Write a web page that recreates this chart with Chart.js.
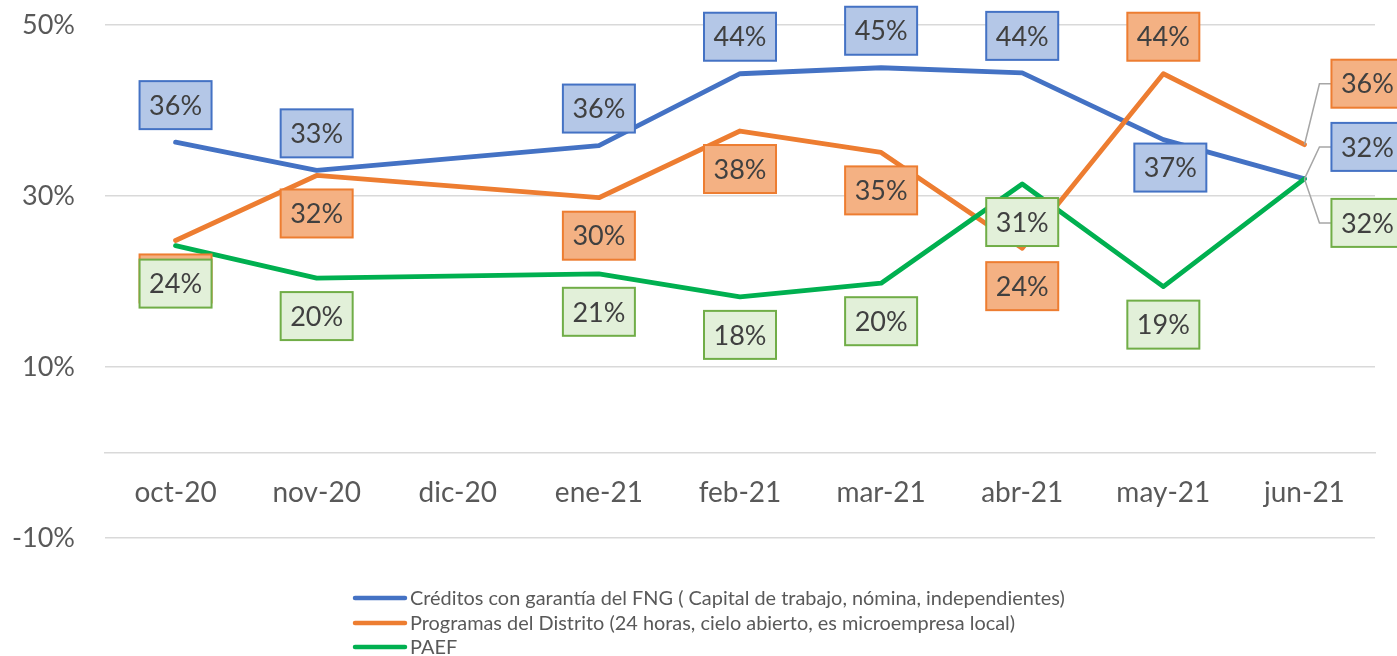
<!DOCTYPE html>
<html>
<head>
<meta charset="utf-8">
<script src="https://cdn.jsdelivr.net/npm/chart.js@4.4.1/dist/chart.umd.min.js"></script>
<style>
  html, body { margin: 0; padding: 0; background: #fff; overflow: hidden; }
  canvas { display: block; }
</style>
</head>
<body>
<canvas id="lineChart" width="1397" height="656"></canvas>
<script>
// data
const months = ['oct-20', 'nov-20', 'dic-20', 'ene-21', 'feb-21', 'mar-21', 'abr-21', 'may-21', 'jun-21'];
const fngValues = [0.363, 0.330, null, 0.359, 0.443, 0.450, 0.444, 0.366, 0.320];
const distritoValues = [0.248, 0.324, null, 0.298, 0.376, 0.351, 0.239, 0.443, 0.360];
const paefValues = [0.242, 0.204, null, 0.209, 0.182, 0.198, 0.314, 0.194, 0.320];
const seriesNames = [
  'Créditos con garantía del FNG ( Capital de trabajo, nómina, independientes)',
  'Programas del Distrito (24 horas, cielo abierto, es microempresa local)',
  'PAEF'
];
const yTicks = [-0.1, 0.1, 0.3, 0.5];

const FONT = 'Lato';
const lineColors = ['#4472C4', '#ED7D31', '#00B050'];
const boxFills = ['#B4C7E7', '#F4B183', '#E2F0D9'];
const boxBorders = ['#4472C4', '#ED7D31', '#70AD47'];

// where each value label sits relative to its point
const labelPlace = [
  ['above', 'above', null, 'above', 'above', 'above', 'above', 'near', 'right'],
  ['below', 'below', null, 'below', 'below', 'below', 'below', 'above', 'right'],
  ['below', 'below', null, 'below', 'below', 'below', 'below', 'below', 'right']
];
const rightDy = [-32, -61, 44];
const placeOffset = { above: [0, -37], below: [0, 38], near: [7, 28] };

const pct = (v) => Math.round(v * 100) + '%';

const valueLabels = {
  id: 'valueLabels',
  afterDatasetsDraw(chart) {
    const ctx = chart.ctx;
    const bw = 72, bh = 48;
    ctx.save();
    chart.data.datasets.forEach((ds, i) => {
      const meta = chart.getDatasetMeta(i);
      ds.data.forEach((v, j) => {
        if (v === null) return;
        const pt = meta.data[j];
        const place = labelPlace[i][j];
        let cx, cy;
        if (place === 'right') {
          cy = pt.y + rightDy[i];
          const left = pt.x + 27;
          cx = left + bw / 2;
          ctx.strokeStyle = '#A6A6A6';
          ctx.lineWidth = 1.5;
          ctx.beginPath();
          ctx.moveTo(pt.x, pt.y);
          ctx.lineTo(pt.x + 15, cy);
          ctx.lineTo(left, cy);
          ctx.stroke();
        } else {
          const off = placeOffset[place];
          cx = pt.x + off[0];
          cy = pt.y + off[1];
        }
        ctx.fillStyle = boxFills[i];
        ctx.fillRect(cx - bw / 2, cy - bh / 2, bw, bh);
        ctx.strokeStyle = boxBorders[i];
        ctx.lineWidth = 2;
        ctx.strokeRect(cx - bw / 2, cy - bh / 2, bw, bh);
        ctx.fillStyle = '#404040';
        ctx.font = '27px ' + FONT;
        ctx.textAlign = 'center';
        ctx.textBaseline = 'middle';
        ctx.fillText(pct(v), cx, cy + 1);
      });
    });
    ctx.restore();
  }
};

const stackedLegend = {
  id: 'stackedLegend',
  afterDraw(chart) {
    const ctx = chart.ctx;
    const rows = [598, 623, 647];
    ctx.save();
    seriesNames.forEach((name, i) => {
      ctx.strokeStyle = lineColors[i];
      ctx.lineWidth = 4.5;
      ctx.lineCap = 'round';
      ctx.beginPath();
      ctx.moveTo(355, rows[i]);
      ctx.lineTo(405, rows[i]);
      ctx.stroke();
      ctx.fillStyle = '#595959';
      ctx.font = '19.9px ' + FONT;
      ctx.textAlign = 'left';
      ctx.textBaseline = 'middle';
      ctx.fillText(name, 410, rows[i] + 1);
    });
    ctx.restore();
  }
};

const makeSet = (i, values) => ({
  label: seriesNames[i],
  data: values,
  borderColor: lineColors[i],
  backgroundColor: lineColors[i],
  borderWidth: 4.8,
  borderCapStyle: 'round',
  borderJoinStyle: 'round',
  pointRadius: 0,
  tension: 0,
  spanGaps: true,
  order: 2 - i
});

new Chart(document.getElementById('lineChart'), {
  type: 'line',
  data: {
    labels: months,
    datasets: [makeSet(0, fngValues), makeSet(1, distritoValues), makeSet(2, paefValues)]
  },
  options: {
    responsive: false,
    animation: false,
    layout: { padding: { top: 25, right: 22, bottom: 118, left: 0 } },
    plugins: {
      legend: { display: false },
      tooltip: { enabled: false }
    },
    scales: {
      x: {
        position: { y: 0 },
        offset: true,
        grid: { display: false, drawTicks: false },
        border: { display: true, color: '#D9D9D9', width: 1.5 },
        ticks: { color: '#595959', font: { family: FONT, size: 28 }, padding: 24, maxRotation: 0 }
      },
      y: {
        min: -0.1,
        max: 0.5,
        afterBuildTicks: (scale) => { scale.ticks = yTicks.map(v => ({ value: v })); },
        afterFit: (scale) => {
          scale.width = 105;
          scale.paddingTop = 0;
          scale.paddingBottom = 0;
        },
        grid: { color: '#D9D9D9', lineWidth: 1.5, drawTicks: false },
        border: { display: false },
        ticks: { color: '#595959', font: { family: FONT, size: 27 }, padding: 30, callback: (v) => pct(v) }
      }
    }
  },
  plugins: [valueLabels, stackedLegend]
});
</script>
</body>
</html>
